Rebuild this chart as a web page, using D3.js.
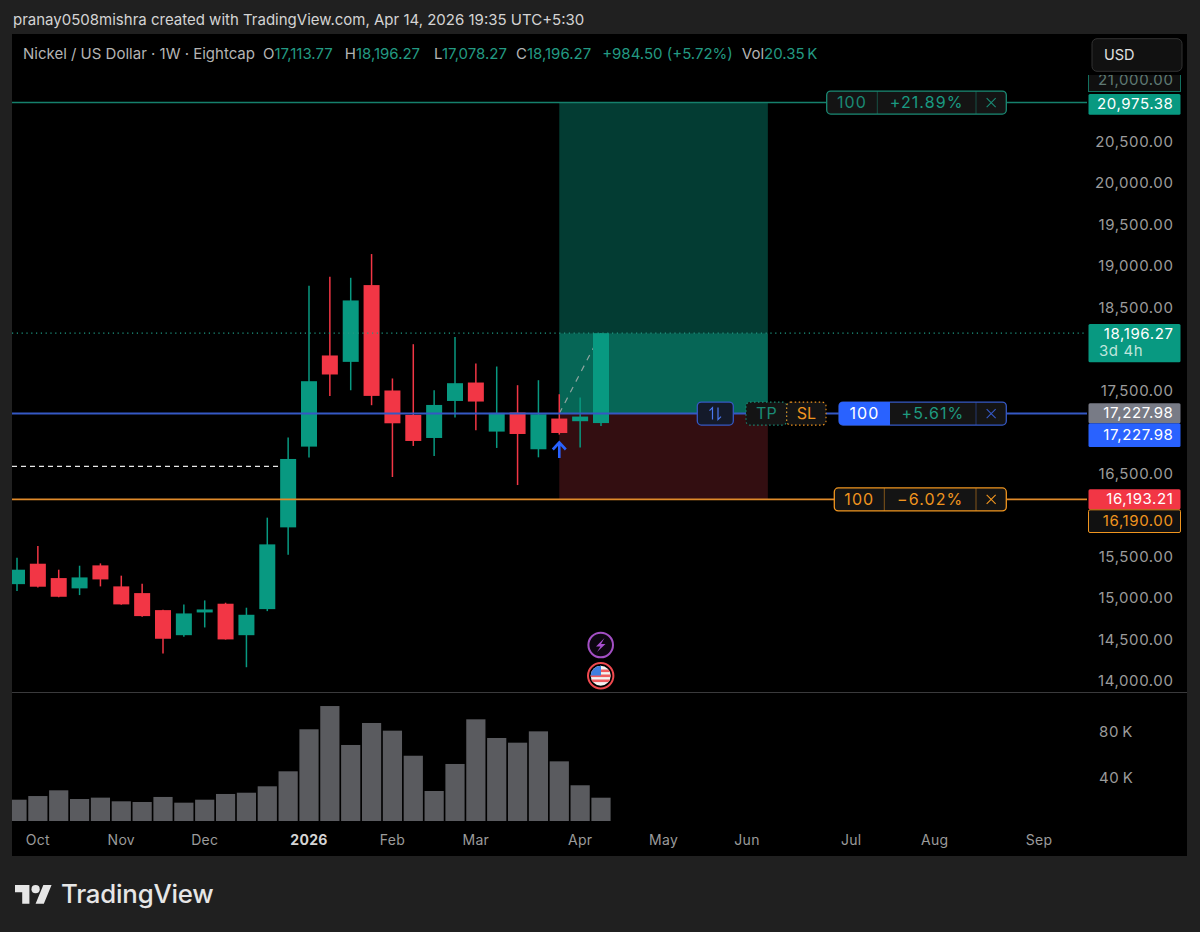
<!DOCTYPE html>
<html>
<head>
<meta charset="utf-8">
<title>Nickel / US Dollar</title>
<script src="https://cdn.jsdelivr.net/npm/d3@7"></script>
<style>
  html, body { margin: 0; padding: 0; background: #202020; }
  svg { display: block; font-family: Inter, "Liberation Sans", sans-serif; }
</style>
</head>
<body>
<svg id="chart" width="1200" height="932"></svg>
<script>
// Weekly candles
const opens = [15173,15419,15246,15122,15399,15146,15065,14860,14558,14832,14937,14558,14872,15857,16830,17928,17851,18776,17506,17212,16934,17380,17602,17011,17240,16798,17168,17136,17113.77];
const highs = [15492,15632,15347,15395,15423,15275,15178,14865,14929,14977,14949,14889,15974,16939,18767,18876,18864,19150,17651,18064,17509,18152,17831,17795,17570,17630,17461,17421,18196.27];
const lows = [15089,15134,15015,15041,15146,14925,14780,14338,14539,14651,14505,14172,14848,15528,16698,17441,17509,17329,16464,16838,16717,17180,17027,16814,16367,16701,16975,16818,17078.27];
const closes = [15347,15142,15021,15254,15230,14929,14788,14515,14820,14868,14507,14804,15652,16681,17618,17699,18591,17441,17111,16898,17332,17594,17373,17236,16982,17220,16994,17192,18196.27];
const volumes = [18.6,21.8,26.8,19.2,20.4,17.2,16.6,21.0,16.0,18.6,23.6,24.7,30.3,43.4,80.1,100.4,66.4,85.6,78.9,57.0,26.2,49.8,88.8,72.5,68.4,78.3,52.1,31.2,20.35];

const priceTicks = [20500,20000,19500,19000,18500,17500,16500,15500,15000,14500,14000];
const volumeTicks = [80,40];
const timeLabels = ["Oct","Nov","Dec","2026","Feb","Mar","Apr","May","Jun","Jul","Aug","Sep"];
const timeIndexes = [1,5,9,14,18,22,27,31,35,40,44,49];

const takeProfit = 20975.38;
const entry = 17227.98;
const stopLoss = 16193.21;
const lastPrice = 18196.27;
const oldLevel = 16593;
const entryBar = 26;
const exitBar = 36;

const GREEN = "#089981", RED = "#f23645", BLUE = "#2962ff", ORANGE = "#f0951f";
const fmt = d3.format(",.2f");

const svg = d3.select("#chart");
const x = d3.scaleLinear().domain([0, 28]).range([17, 601]);
const y = d3.scaleLinear().domain([14000, 21000]).range([681.5, 100.5]);
const yVol = d3.scaleLinear().domain([0, 80]).range([821, 729.4]);

// Panel
svg.append("rect").attr("x", 12).attr("y", 34).attr("width", 1175).attr("height", 822).attr("fill", "#000");
svg.append("rect").attr("x", 12).attr("y", 692).attr("width", 1175).attr("height", 1).attr("fill", "#3a3a3c");

svg.append("text").attr("x", 13).attr("y", 25).attr("fill", "#d4d4d4").attr("font-size", 15)
  .text("pranay0508mishra created with TradingView.com, Apr 14, 2026 19:35 UTC+5:30");

const defs = svg.append("defs");
defs.append("clipPath").attr("id", "plot").append("rect")
  .attr("x", 12).attr("y", 34).attr("width", 1175).attr("height", 822);
defs.append("clipPath").attr("id", "tickClip").append("rect")
  .attr("x", 1080).attr("y", 75).attr("width", 110).attr("height", 20);
defs.append("clipPath").attr("id", "flagClip").append("circle")
  .attr("cx", 600.7).attr("cy", 675.7).attr("r", 10);

// Position zones
const zones = svg.append("g");
const zone = (top, bottom, fill) => zones.append("rect")
  .attr("x", x(entryBar)).attr("width", x(exitBar) - x(entryBar))
  .attr("y", y(top)).attr("height", y(bottom) - y(top)).attr("fill", fill);
zone(takeProfit, lastPrice, "#033c33");
zone(lastPrice, entry, "#066656");
zone(entry, stopLoss, "#330e11");

// Old dashed level
svg.append("line").attr("x1", 12).attr("x2", x(13) - 7).attr("y1", y(oldLevel)).attr("y2", y(oldLevel))
  .attr("stroke", "#e8e8e8").attr("stroke-width", 1.3).attr("stroke-dasharray", "5 4");

// Projection line under the last candle
svg.append("line").attr("x1", x(entryBar)).attr("x2", x(28)).attr("y1", y(entry)).attr("y2", y(lastPrice))
  .attr("stroke", "#8fa5a0").attr("stroke-width", 1.2).attr("stroke-dasharray", "6 6");

// Candles
const idx = d3.range(opens.length);
const candles = svg.append("g").attr("clip-path", "url(#plot)");
const color = i => closes[i] >= opens[i] ? GREEN : RED;
candles.selectAll("line").data(idx).join("line")
  .attr("x1", i => x(i)).attr("x2", i => x(i))
  .attr("y1", i => y(highs[i])).attr("y2", i => y(lows[i]))
  .attr("stroke", color).attr("stroke-width", 1.5);
candles.selectAll("rect").data(idx).join("rect")
  .attr("x", i => x(i) - 8).attr("width", 16)
  .attr("y", i => y(Math.max(opens[i], closes[i])))
  .attr("height", i => Math.abs(y(opens[i]) - y(closes[i])))
  .attr("fill", color);

// Volume
svg.append("g").attr("clip-path", "url(#plot)").selectAll("rect").data(idx).join("rect")
  .attr("x", i => x(i) - 9.6).attr("width", 19.2)
  .attr("y", i => yVol(volumes[i]))
  .attr("height", i => yVol(0) - yVol(volumes[i]))
  .attr("fill", "#5a5b5f");

// Level lines
const level = (p, stroke, w, dash) => svg.append("line")
  .attr("x1", 12).attr("x2", 1087).attr("y1", y(p)).attr("y2", y(p))
  .attr("stroke", stroke).attr("stroke-width", w).attr("stroke-dasharray", dash || null);
level(lastPrice, "#1f9a84", 1.2, "1.2 3.6");
level(takeProfit, "#15806c", 1.5);
level(entry, "#3558c4", 2);
level(stopLoss, "#e08a2a", 1.7);

// Entry arrow
svg.append("path")
  .attr("d", `M${x(entryBar)} 458V443M${x(entryBar) - 6.5} 449.5L${x(entryBar)} 442.5L${x(entryBar) + 6.5} 449.5`)
  .attr("fill", "none").attr("stroke", BLUE).attr("stroke-width", 2.6);

// Price scale
const scaleText = (sel, px, py, fill, anchor) => sel.append("text")
  .attr("x", px).attr("y", py).attr("dy", "0.36em").attr("fill", fill)
  .attr("font-size", 15).attr("letter-spacing", 0.6).attr("text-anchor", anchor || "end");

priceTicks.forEach(t => scaleText(svg, 1173.5, y(t) - 0.5, "#9b9b9b").text(fmt(t)));
volumeTicks.forEach(t => scaleText(svg, 1099, yVol(t) + 2.5, "#9b9b9b", "start").text(t + "\u2009K"));

// 21,000 tick pushed up and cut by the currency box
const cut = svg.append("g").attr("clip-path", "url(#tickClip)");
cut.append("rect").attr("x", 1088.5).attr("y", 60).attr("width", 92).attr("height", 31.5)
  .attr("fill", "#101010").attr("stroke", "#12705f");
scaleText(cut, 1173.5, 79.5, "#5f7a74").text(fmt(21000));

// Price labels
const tag = (y0, y1, fill, stroke) => svg.append("rect")
  .attr("x", 1088.5).attr("width", 92).attr("y", y0).attr("height", y1 - y0).attr("rx", 1.5)
  .attr("fill", fill).attr("stroke", stroke || "none");

tag(94, 114.7, GREEN);
scaleText(svg, 1173.5, 104, "#fff").text(fmt(takeProfit));
tag(324, 362.3, GREEN);
scaleText(svg, 1173.5, 333.5, "#fff").text(fmt(lastPrice));
scaleText(svg, 1099, 351, "#bfe5dc", "start").text("3d 4h");
tag(403.3, 423.3, "#787b86");
scaleText(svg, 1173.5, 413, "#fff").text(fmt(entry));
tag(423.3, 447, BLUE);
scaleText(svg, 1173.5, 434.5, "#fff").text(fmt(entry));
tag(489.3, 509.3, RED);
scaleText(svg, 1173.5, 499, "#fff").text(fmt(stopLoss));
tag(509.8, 532.5, "#111", ORANGE);
scaleText(svg, 1173.5, 520.5, ORANGE).text(fmt(16190));

// Order pills
function pill(left, sep1, sep2, py, stroke, qty, pct, pctColor, qtyFill) {
  const top = y(py) - 11.5;
  const g = svg.append("g");
  g.append("rect").attr("x", left).attr("y", top).attr("width", 1006.3 - left).attr("height", 23)
    .attr("rx", 4).attr("fill", "#141414").attr("stroke", stroke).attr("stroke-width", 1.3);
  if (qtyFill) {
    g.append("path")
      .attr("d", `M${sep1} ${top}H${left + 4}a4 4 0 0 0 -4 4V${top + 19}a4 4 0 0 0 4 4H${sep1}Z`)
      .attr("fill", qtyFill);
  } else {
    g.append("line").attr("x1", sep1).attr("x2", sep1).attr("y1", top).attr("y2", top + 23)
      .attr("stroke", stroke).attr("stroke-opacity", 0.5);
  }
  g.append("line").attr("x1", sep2).attr("x2", sep2).attr("y1", top).attr("y2", top + 23)
    .attr("stroke", stroke).attr("stroke-opacity", 0.5);
  const label = (cx, txt, fill) => g.append("text").attr("x", cx).attr("y", y(py)).attr("dy", "0.36em")
    .attr("text-anchor", "middle").attr("font-size", 16).attr("letter-spacing", 1.1).attr("fill", fill).text(txt);
  label((left + sep1) / 2, qty, qtyFill ? "#fff" : stroke);
  label((sep1 + sep2) / 2, pct, pctColor);
  const cx = (sep2 + 1006.3) / 2, cy = y(py);
  g.append("path").attr("d", `M${cx - 4.5} ${cy - 4.5}L${cx + 4.5} ${cy + 4.5}M${cx + 4.5} ${cy - 4.5}L${cx - 4.5} ${cy + 4.5}`)
    .attr("stroke", stroke).attr("stroke-width", 1.1);
}
pill(826.7, 877.3, 976, takeProfit, "#1a8a74", "100", "+21.89%", "#1a9a82");
pill(839, 890, 976, entry, "#3558c4", "100", "+5.61%", "#1f9a80", BLUE);
pill(834.3, 884.3, 976, stopLoss, ORANGE, "100", "\u22126.02%", ORANGE);

// Reverse button and TP / SL chips
const midY = y(entry);
svg.append("rect").attr("x", 697.3).attr("y", midY - 11.5).attr("width", 36).attr("height", 23).attr("rx", 4)
  .attr("fill", "#141a2a").attr("stroke", "#3558c4").attr("stroke-width", 1.3);
svg.append("path")
  .attr("d", `M712.5 ${midY + 6}V${midY - 6}L709.5 ${midY - 3}M718 ${midY - 6}V${midY + 6}L721 ${midY + 3}`)
  .attr("fill", "none").attr("stroke", "#4a78f0").attr("stroke-width", 1.2);

const chip = (x0, x1, stroke, txt, dash) => {
  svg.append("rect").attr("x", x0).attr("y", midY - 11.5).attr("width", x1 - x0).attr("height", 23).attr("rx", 4)
    .attr("fill", "#141414").attr("stroke", stroke).attr("stroke-width", 1.1).attr("stroke-dasharray", dash);
  svg.append("text").attr("x", (x0 + x1) / 2).attr("y", midY).attr("dy", "0.36em").attr("text-anchor", "middle")
    .attr("font-size", 16).attr("fill", stroke).text(txt);
};
chip(746, 786.7, "#1a8a74", "TP", "1.5 2.5");
chip(786.7, 826, ORANGE, "SL", "1.5 2.5");

// Currency box
svg.append("rect").attr("x", 1092).attr("y", 38.7).attr("width", 90).attr("height", 32.6).attr("rx", 5)
  .attr("fill", "#111").attr("stroke", "#333");
svg.append("text").attr("x", 1104).attr("y", 55).attr("dy", "0.36em").attr("font-size", 14.5).attr("fill", "#e0e0e0").text("USD");

// Legend
const legendLabel = "#b4b4b4", legendValue = "#239a83";
const legend = svg.append("text").attr("x", 23).attr("y", 54).attr("dy", "0.36em").attr("font-size", 15);
const legendParts = [
  ["Nickel / US Dollar \u00b7 1W \u00b7 Eightcap", legendLabel, 0],
  ["O", legendLabel, 8], [fmt(opens[28]), legendValue, 0],
  ["H", legendLabel, 12], [fmt(highs[28]), legendValue, 0],
  ["L", legendLabel, 14], [fmt(lows[28]), legendValue, 0],
  ["C", legendLabel, 9], [fmt(closes[28]), legendValue, 0],
  ["+984.50 (+5.72%)", legendValue, 11],
  ["Vol", legendLabel, 9], ["20.35\u2009K", legendValue, 0]
];
legendParts.forEach(p => legend.append("tspan").attr("dx", p[2]).attr("fill", p[1]).text(p[0]));

// Event icons
svg.append("circle").attr("cx", 600.7).attr("cy", 645).attr("r", 12.3).attr("fill", "#0c0610")
  .attr("stroke", "#a34fc4").attr("stroke-width", 2);
svg.append("path").attr("d", "M604.5 638L596 646.5H600.5L597 652L605.5 644H601Z").attr("fill", "#a84fd0");

svg.append("circle").attr("cx", 600.7).attr("cy", 675.7).attr("r", 12.7).attr("fill", "#000")
  .attr("stroke", "#f0494f").attr("stroke-width", 2);
const flag = svg.append("g").attr("clip-path", "url(#flagClip)");
flag.append("rect").attr("x", 590).attr("y", 665).attr("width", 22).attr("height", 22).attr("fill", "#f2f2f2");
d3.range(3).forEach(k => flag.append("rect").attr("x", 590).attr("y", 669.5 + k * 5).attr("width", 22).attr("height", 2.6).attr("fill", "#ef5a5f"));
flag.append("rect").attr("x", 590).attr("y", 665).attr("width", 11).attr("height", 10.5).attr("fill", "#3f7fe0");

// Time axis
svg.append("g").selectAll("text").data(timeLabels).join("text")
  .attr("x", (d, i) => x(timeIndexes[i])).attr("y", 840).attr("dy", "0.36em")
  .attr("text-anchor", "middle").attr("font-size", 14).attr("letter-spacing", 0.3)
  .attr("font-weight", d => d === "2026" ? 700 : 400)
  .attr("fill", d => d === "2026" ? "#d4d4d4" : "#9b9b9b")
  .text(d => d);

// Footer logo
const logo = svg.append("g").attr("transform", "translate(15,881) scale(1.03)").attr("fill", "#e6e6e6");
logo.append("path").attr("d", "M14 22H7V11H0V4h14v18zM28 22h-8l7.5-18h8L28 22z");
logo.append("circle").attr("cx", 20).attr("cy", 8).attr("r", 4);
svg.append("text").attr("x", 61).attr("y", 903).attr("font-size", 25.8).attr("font-weight", 500)
  .attr("letter-spacing", -0.2).attr("fill", "#e6e6e6").text("TradingView");
</script>
</body>
</html>
